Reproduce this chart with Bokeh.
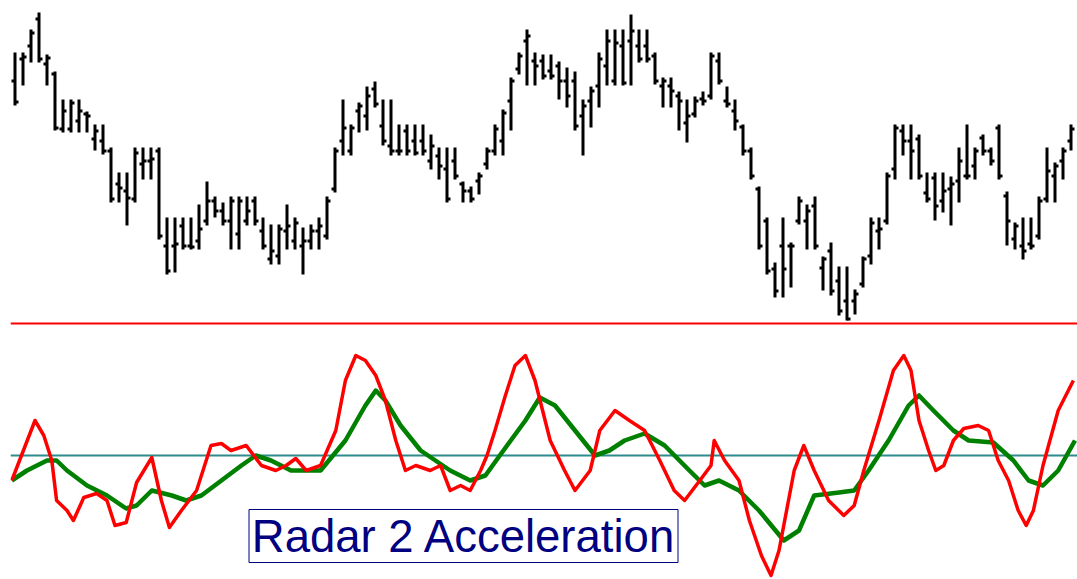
from bokeh.plotting import figure
from bokeh.layouts import column
from bokeh.models import Range1d, Span, ColumnDataSource
from bokeh.core.properties import value
from bokeh.embed import file_html
from bokeh.resources import INLINE

# ---- price bars (open, high, low, close) ----
opens = [52.0, 54.2, 55.5, 58.2, 53.7, 52.7, 47.2, 47.2, 48.0, 48.7,
         46.2, 46.0, 45.0, 41.7, 41.0, 40.2, 43.7, 44.0, 45.0, 35.5,
         35.5, 37.5, 35.5, 36.0, 38.0, 40.0, 39.0, 38.0, 36.7, 38.0,
         40.0, 37.0, 34.2, 34.5, 37.0, 36.0, 35.5, 36.0, 37.0, 36.5,
         41.2, 46.0, 45.0, 49.0, 48.5, 51.2, 47.5, 45.5, 45.0, 47.0,
         46.0, 46.0, 44.0, 44.5, 43.2, 44.0, 41.7, 41.0, 42.0, 43.7,
         45.0, 46.0, 50.0, 53.2, 56.0, 54.0, 54.0, 53.0, 53.5, 52.0,
         52.0, 48.5, 50.0, 51.5, 53.5, 52.0, 55.5, 56.0, 55.5, 55.5,
         54.5, 51.5, 51.5, 50.5, 47.8, 48.7, 50.2, 50.5, 54.0, 50.0,
         49.0, 47.4, 45.0, 41.2, 38.0, 33.2, 35.5, 35.5, 38.0, 38.0,
         39.5, 33.3, 35.0, 32.0, 30.0, 30.0, 31.7, 34.5, 37.0, 38.0,
         43.2, 47.0, 46.0, 46.2, 40.8, 42.3, 40.0, 41.2, 42.0, 42.5,
         43.5, 46.3, 45.0, 47.3, 40.5, 36.2, 35.5, 35.7, 36.5, 40.2,
         42.5, 44.0, 46.0]
highs = [54.7, 54.7, 57.0, 58.7, 54.5, 52.8, 50.0, 50.0, 50.0, 48.8,
         47.5, 47.5, 45.2, 42.7, 42.7, 45.2, 45.2, 45.2, 45.2, 38.2,
         38.2, 38.2, 38.2, 39.5, 41.8, 40.3, 39.7, 40.3, 40.3, 40.3,
         40.3, 38.2, 37.5, 37.5, 39.5, 38.2, 37.2, 37.5, 38.2, 40.3,
         45.2, 50.0, 47.5, 49.7, 51.3, 51.8, 50.0, 50.0, 47.5, 47.5,
         47.5, 47.5, 46.5, 45.2, 45.2, 45.2, 41.8, 41.3, 42.7, 45.2,
         47.5, 49.0, 52.2, 54.7, 57.0, 54.7, 54.5, 54.5, 53.8, 53.2,
         52.8, 50.0, 51.3, 54.7, 57.0, 57.0, 57.0, 58.5, 57.0, 57.0,
         54.7, 52.2, 52.2, 50.8, 50.0, 50.3, 50.8, 54.7, 54.7, 51.3,
         50.0, 47.5, 45.2, 41.3, 38.2, 33.7, 38.2, 35.7, 40.3, 39.5,
         40.3, 34.3, 35.7, 33.3, 33.3, 31.0, 34.3, 38.2, 38.2, 42.7,
         47.5, 47.5, 47.5, 46.5, 42.7, 42.7, 42.7, 42.3, 45.2, 47.5,
         45.2, 46.5, 45.2, 47.5, 40.8, 37.7, 38.2, 38.2, 40.3, 45.2,
         43.7, 45.2, 47.5]
lows = [49.7, 51.7, 54.0, 54.0, 51.7, 47.2, 47.0, 47.0, 47.0, 47.0,
        45.2, 44.8, 40.0, 40.0, 37.7, 40.0, 42.3, 42.3, 36.3, 32.8,
        33.0, 35.3, 35.3, 35.3, 37.7, 38.5, 37.7, 35.3, 35.3, 37.7,
        37.7, 35.3, 33.8, 33.8, 35.3, 35.3, 32.8, 35.3, 35.3, 36.3,
        41.0, 44.7, 44.7, 47.0, 47.2, 49.5, 45.7, 44.7, 44.7, 44.7,
        44.7, 44.7, 43.3, 42.3, 40.0, 42.3, 40.0, 40.0, 40.8, 43.3,
        44.7, 44.7, 47.2, 52.8, 51.7, 51.7, 52.3, 52.3, 50.3, 49.5,
        47.2, 44.7, 47.5, 49.5, 51.7, 51.7, 51.7, 51.7, 54.0, 54.0,
        51.8, 49.5, 49.5, 47.2, 46.0, 48.5, 49.7, 50.3, 51.8, 49.5,
        47.2, 44.7, 42.3, 35.3, 32.8, 30.5, 30.5, 31.5, 37.8, 35.3,
        35.3, 31.2, 30.7, 28.7, 28.2, 28.8, 31.5, 33.8, 35.3, 37.8,
        42.3, 44.7, 42.3, 42.3, 40.0, 38.2, 39.0, 37.7, 40.0, 42.3,
        42.3, 44.7, 43.7, 42.3, 35.7, 35.3, 34.3, 35.3, 36.3, 40.0,
        40.0, 42.3, 45.2]
closes = [49.9, 54.4, 56.8, 54.2, 54.3, 47.3, 49.0, 49.8, 49.0, 48.5,
          47.0, 45.0, 40.2, 41.3, 40.3, 44.8, 44.0, 44.2, 36.5, 33.0,
          35.7, 35.5, 35.4, 37.2, 40.0, 39.0, 38.0, 40.0, 40.0, 39.0,
          38.0, 35.5, 35.0, 37.2, 37.5, 37.8, 36.0, 37.0, 37.5, 40.0,
          45.0, 47.3, 47.3, 49.5, 50.5, 49.7, 46.0, 45.0, 45.0, 45.0,
          44.8, 45.0, 45.5, 43.5, 40.2, 42.5, 41.0, 40.2, 42.5, 45.0,
          47.2, 48.8, 52.0, 54.5, 56.5, 53.5, 52.5, 52.5, 52.0, 50.5,
          47.5, 49.5, 51.0, 54.2, 56.0, 55.8, 51.8, 57.0, 54.2, 54.2,
          52.0, 52.0, 51.0, 50.0, 48.5, 50.0, 50.0, 54.5, 52.0, 49.7,
          48.0, 45.0, 42.5, 35.5, 33.0, 31.0, 33.2, 35.5, 40.0, 39.0,
          35.5, 34.2, 31.0, 29.0, 28.2, 30.7, 34.2, 37.8, 37.2, 42.5,
          47.3, 46.0, 45.0, 42.5, 40.2, 39.5, 41.0, 41.7, 44.0, 42.5,
          45.0, 45.0, 44.0, 42.5, 38.0, 37.5, 35.0, 35.5, 40.0, 43.0,
          43.5, 45.0, 47.2]

# ---- Radar 2 Acceleration oscillator (bar position, value) ----
red_pos = [-0.4, 2.5, 3.6, 4.6, 5.2, 6.5, 7.3, 8.6, 10.2, 11.5, 12.5, 13.9,
           15.2, 17.1, 18.3, 19.3, 20.8, 22.7, 24.5, 25.8, 27.0, 28.9, 30.8,
           32.6, 33.9, 35.1, 36.4, 38.2, 40.1, 41.3, 42.6, 43.8, 45.1, 46.3,
           47.6, 48.8, 50.1, 51.9, 53.2, 54.4, 55.7, 56.9, 58.2, 59.0, 60.0,
           61.3, 62.5, 63.8, 65.0, 66.9, 68.7, 70.0, 71.9, 73.1, 75.0, 76.8,
           78.7, 80.6, 82.4, 83.7, 85.6, 87.0, 87.4, 88.7, 90.5, 91.8, 93.3,
           94.5, 95.5, 97.4, 98.6, 99.9, 101.7, 103.6, 104.9, 106.1, 108.0,
           109.8, 111.1, 112.0, 113.0, 114.2, 115.1, 116.1, 117.3, 118.6,
           120.4, 121.7, 122.9, 124.2, 125.4, 126.4, 127.3, 128.5, 130.4, 132.3]
red_val = [-2.5, 3.5, 2.0, -0.5, -4.5, -5.5, -6.5, -4.2, -3.8, -4.5, -7.0, -6.7,
           -2.7, -0.2, -4.5, -7.2, -5.5, -3.5, 1.0, 1.2, 0.5, 1.0, -1.0,
           -1.5, -1.0, -0.3, -1.5, -1.0, 2.5, 7.5, 10.0, 9.5, 8.0, 5.5,
           1.5, -1.5, -1.0, -1.5, -1.0, -3.5, -3.0, -3.5, -1.5, 0.0, 2.5,
           6.0, 9.0, 10.0, 7.5, 1.5, -1.5, -3.5, -1.5, 2.5, 4.5, 3.5,
           2.5, -0.5, -3.5, -4.5, -2.5, -1.0, 1.5, -0.5, -2.5, -6.5, -10.0,
           -12.0, -9.5, -1.5, 1.0, -1.5, -4.5, -6.0, -5.0, -1.5, 3.5,
           8.5, 10.0, 8.5, 3.5, 0.5, -1.5, -1.0, 1.5, 2.7,
           3.0, 2.5, -0.5, -2.5, -5.5, -7.0, -5.5, -1.0, 4.5, 7.5]
green_pos = [-0.4, 1.5, 4.0, 5.2, 6.5, 9.0, 11.5, 13.9, 15.2, 17.1, 19.6, 21.4,
             23.3, 25.8, 28.3, 30.1, 32.0, 34.5, 38.2, 41.3, 43.8, 45.1, 46.3,
             48.2, 50.7, 54.4, 56.9, 58.8, 60.6, 63.8, 65.6, 67.5, 70.0, 72.5,
             74.3, 76.2, 78.7, 81.2, 84.3, 86.2, 88.0, 90.5, 93.0, 96.1, 98.0,
             99.9, 103.0, 104.9, 106.7, 109.2, 111.7, 113.0, 114.8, 117.3,
             119.2, 122.3, 124.8, 126.7, 128.5, 130.4, 132.5]
green_val = [-2.5, -1.5, -0.5, -0.5, -1.5, -3.0, -4.0, -5.3, -5.0, -3.5, -4.0, -4.5,
             -4.0, -2.5, -1.0, 0.0, -0.5, -1.5, -1.5, 1.5, 5.0, 6.5, 5.5,
             3.0, 0.5, -1.5, -2.5, -2.0, 0.0, 3.5, 5.8, 5.0, 2.5, 0.0,
             0.5, 1.5, 2.2, 1.0, -1.5, -3.0, -2.5, -3.5, -5.5, -8.5, -7.5,
             -4.0, -3.7, -3.5, -1.5, 1.5, 5.0, 6.0, 4.5, 2.5,
             1.5, 1.3, -0.5, -2.5, -3.0, -1.5, 1.5]
zero_level = 0.0
title_text = "Radar 2 Acceleration"

idx = list(range(len(opens)))
xr = Range1d(-0.5625, 132.8125)

src = ColumnDataSource(dict(
    x=idx,
    xl=[i - 0.4375 for i in idx],
    xr=[i + 0.4375 for i in idx],
    o=opens, h=highs, l=lows, c=closes))

top = figure(width=1077, height=325, x_range=xr, y_range=Range1d(27.55, 60.05),
             output_backend="svg", toolbar_location=None,
             min_border=0, min_border_left=10)
bot = figure(width=1077, height=254, x_range=xr, y_range=Range1d(-12.4, 13.0),
             output_backend="svg", toolbar_location=None,
             min_border=0, min_border_left=10)

for f in (top, bot):
    f.xaxis.visible = False
    f.yaxis.visible = False
    f.xgrid.visible = False
    f.ygrid.visible = False
    f.outline_line_color = None
    f.background_fill_color = "white"
    f.border_fill_color = "white"

top.segment(x0="x", y0="l", x1="x", y1="h", source=src, line_color="black",
            line_width=3, line_cap="square")
top.segment(x0="xl", y0="o", x1="x", y1="o", source=src, line_color="black", line_width=3)
top.segment(x0="x", y0="c", x1="xr", y1="c", source=src, line_color="black", line_width=3)
top.add_layout(Span(location=27.75, dimension="width", line_color="#ff0000", line_width=2))

bot.add_layout(Span(location=zero_level, dimension="width", line_color="#2e8b8b",
                    line_width=2, level="underlay"))
bot.line(green_pos, green_val, line_color="#008000", line_width=4.5, line_join="round")
bot.line(red_pos, red_val, line_color="#ff0000", line_width=3.5, line_join="round")

# caption box and text
bot.quad(left=[29.25], right=[82.875], top=[-5.4], bottom=[-10.7],
         fill_color="white", line_color="#000080", line_width=1)
bot.text(x=[29.6], y=[-8.1], text=[title_text],
         text_font=value("Liberation Sans"), text_font_size=value("45.5px"),
         text_color="#000080", text_baseline="alphabetic", text_align="left")

layout = column(top, bot, spacing=0)
open("out.html", "w").write(file_html(layout, INLINE))
